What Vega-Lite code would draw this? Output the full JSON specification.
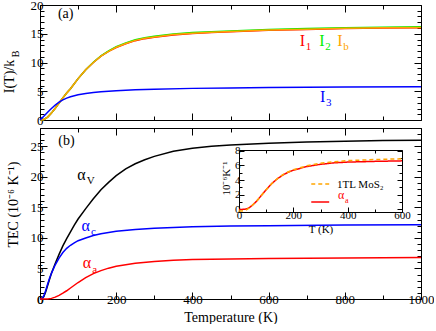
{
  "$schema": "https://vega.github.io/schema/vega-lite/v6.json",
  "padding": {"left": 2, "top": -1, "right": 0, "bottom": 0},
  "background": "white",
  "spacing": 8,
  "bounds": "flush",
  "resolve": {"scale": {"color": "independent", "strokeDash": "independent"}},
  "datasets": {
    "top": [
      {"s": "I1", "T": 0, "v": 0}, {"s": "I1", "T": 10, "v": 0.08}, {"s": "I1", "T": 20, "v": 0.5}, {"s": "I1", "T": 30, "v": 1.2}, {"s": "I1", "T": 40, "v": 2.05}, {"s": "I1", "T": 50, "v": 2.95}, {"s": "I1", "T": 60, "v": 3.85}, {"s": "I1", "T": 70, "v": 4.7}, {"s": "I1", "T": 80, "v": 5.45}, {"s": "I1", "T": 100, "v": 7.2}, {"s": "I1", "T": 120, "v": 8.75}, {"s": "I1", "T": 140, "v": 10.0}, {"s": "I1", "T": 160, "v": 11.1}, {"s": "I1", "T": 180, "v": 11.95}, {"s": "I1", "T": 200, "v": 12.6}, {"s": "I1", "T": 225, "v": 13.25}, {"s": "I1", "T": 250, "v": 13.8}, {"s": "I1", "T": 275, "v": 14.15}, {"s": "I1", "T": 300, "v": 14.4}, {"s": "I1", "T": 350, "v": 14.8}, {"s": "I1", "T": 400, "v": 15.05}, {"s": "I1", "T": 450, "v": 15.2}, {"s": "I1", "T": 500, "v": 15.35}, {"s": "I1", "T": 600, "v": 15.6}, {"s": "I1", "T": 700, "v": 15.75}, {"s": "I1", "T": 800, "v": 15.9}, {"s": "I1", "T": 900, "v": 16.0}, {"s": "I1", "T": 1000, "v": 16.05},
      {"s": "I2", "T": 0, "v": 0}, {"s": "I2", "T": 10, "v": 0.08}, {"s": "I2", "T": 20, "v": 0.5}, {"s": "I2", "T": 30, "v": 1.2}, {"s": "I2", "T": 40, "v": 2.05}, {"s": "I2", "T": 50, "v": 2.95}, {"s": "I2", "T": 60, "v": 3.85}, {"s": "I2", "T": 70, "v": 4.7}, {"s": "I2", "T": 80, "v": 5.45}, {"s": "I2", "T": 100, "v": 7.2}, {"s": "I2", "T": 120, "v": 8.75}, {"s": "I2", "T": 140, "v": 10.05}, {"s": "I2", "T": 160, "v": 11.15}, {"s": "I2", "T": 180, "v": 12.0}, {"s": "I2", "T": 200, "v": 12.75}, {"s": "I2", "T": 225, "v": 13.4}, {"s": "I2", "T": 250, "v": 13.95}, {"s": "I2", "T": 275, "v": 14.3}, {"s": "I2", "T": 300, "v": 14.55}, {"s": "I2", "T": 350, "v": 14.95}, {"s": "I2", "T": 400, "v": 15.2}, {"s": "I2", "T": 450, "v": 15.35}, {"s": "I2", "T": 500, "v": 15.5}, {"s": "I2", "T": 600, "v": 15.75}, {"s": "I2", "T": 700, "v": 15.9}, {"s": "I2", "T": 800, "v": 16.05}, {"s": "I2", "T": 900, "v": 16.15}, {"s": "I2", "T": 1000, "v": 16.2},
      {"s": "Ib", "T": 0, "v": 0}, {"s": "Ib", "T": 10, "v": 0.08}, {"s": "Ib", "T": 20, "v": 0.5}, {"s": "Ib", "T": 30, "v": 1.2}, {"s": "Ib", "T": 40, "v": 2.05}, {"s": "Ib", "T": 50, "v": 2.95}, {"s": "Ib", "T": 60, "v": 3.85}, {"s": "Ib", "T": 70, "v": 4.7}, {"s": "Ib", "T": 80, "v": 5.45}, {"s": "Ib", "T": 100, "v": 7.2}, {"s": "Ib", "T": 120, "v": 8.75}, {"s": "Ib", "T": 140, "v": 10.0}, {"s": "Ib", "T": 160, "v": 11.1}, {"s": "Ib", "T": 180, "v": 11.95}, {"s": "Ib", "T": 200, "v": 12.65}, {"s": "Ib", "T": 225, "v": 13.3}, {"s": "Ib", "T": 250, "v": 13.85}, {"s": "Ib", "T": 275, "v": 14.2}, {"s": "Ib", "T": 300, "v": 14.45}, {"s": "Ib", "T": 350, "v": 14.85}, {"s": "Ib", "T": 400, "v": 15.1}, {"s": "Ib", "T": 450, "v": 15.25}, {"s": "Ib", "T": 500, "v": 15.4}, {"s": "Ib", "T": 600, "v": 15.65}, {"s": "Ib", "T": 700, "v": 15.8}, {"s": "Ib", "T": 800, "v": 15.95}, {"s": "Ib", "T": 900, "v": 16.05}, {"s": "Ib", "T": 1000, "v": 16.1},
      {"s": "I3", "T": 0, "v": 0}, {"s": "I3", "T": 10, "v": 0.65}, {"s": "I3", "T": 20, "v": 1.35}, {"s": "I3", "T": 30, "v": 2.0}, {"s": "I3", "T": 40, "v": 2.6}, {"s": "I3", "T": 50, "v": 3.1}, {"s": "I3", "T": 60, "v": 3.5}, {"s": "I3", "T": 70, "v": 3.8}, {"s": "I3", "T": 80, "v": 4.05}, {"s": "I3", "T": 100, "v": 4.4}, {"s": "I3", "T": 120, "v": 4.62}, {"s": "I3", "T": 140, "v": 4.78}, {"s": "I3", "T": 160, "v": 4.9}, {"s": "I3", "T": 200, "v": 5.1}, {"s": "I3", "T": 250, "v": 5.25}, {"s": "I3", "T": 300, "v": 5.35}, {"s": "I3", "T": 400, "v": 5.5}, {"s": "I3", "T": 500, "v": 5.58}, {"s": "I3", "T": 600, "v": 5.64}, {"s": "I3", "T": 800, "v": 5.72}, {"s": "I3", "T": 1000, "v": 5.8}
    ],
    "toplabels": [
      {"s": "I1", "main": "I", "sub": "1", "T": 682, "v": 12.9},
      {"s": "I2", "main": "I", "sub": "2", "T": 733, "v": 12.9},
      {"s": "Ib", "main": "I", "sub": "b", "T": 780, "v": 12.9},
      {"s": "I3", "main": "I", "sub": "3", "T": 735, "v": 3.2}
    ],
    "bottom": [
      {"s": "aV", "T": 0, "v": 0}, {"s": "aV", "T": 5, "v": 0.05}, {"s": "aV", "T": 10, "v": 0.4}, {"s": "aV", "T": 15, "v": 1.2}, {"s": "aV", "T": 20, "v": 2.2}, {"s": "aV", "T": 30, "v": 4.2}, {"s": "aV", "T": 40, "v": 5.8}, {"s": "aV", "T": 50, "v": 7.3}, {"s": "aV", "T": 60, "v": 8.7}, {"s": "aV", "T": 70, "v": 9.9}, {"s": "aV", "T": 80, "v": 11.0}, {"s": "aV", "T": 90, "v": 12.1}, {"s": "aV", "T": 100, "v": 13.1}, {"s": "aV", "T": 120, "v": 14.8}, {"s": "aV", "T": 140, "v": 16.4}, {"s": "aV", "T": 160, "v": 17.9}, {"s": "aV", "T": 180, "v": 19.1}, {"s": "aV", "T": 200, "v": 20.2}, {"s": "aV", "T": 225, "v": 21.3}, {"s": "aV", "T": 250, "v": 22.15}, {"s": "aV", "T": 275, "v": 22.8}, {"s": "aV", "T": 300, "v": 23.35}, {"s": "aV", "T": 350, "v": 24.2}, {"s": "aV", "T": 400, "v": 24.7}, {"s": "aV", "T": 450, "v": 25.0}, {"s": "aV", "T": 500, "v": 25.2}, {"s": "aV", "T": 600, "v": 25.5}, {"s": "aV", "T": 700, "v": 25.7}, {"s": "aV", "T": 800, "v": 25.85}, {"s": "aV", "T": 900, "v": 25.95}, {"s": "aV", "T": 1000, "v": 26.0},
      {"s": "ac", "T": 0, "v": 0}, {"s": "ac", "T": 5, "v": 0.05}, {"s": "ac", "T": 10, "v": 0.5}, {"s": "ac", "T": 15, "v": 1.4}, {"s": "ac", "T": 20, "v": 2.4}, {"s": "ac", "T": 25, "v": 3.4}, {"s": "ac", "T": 30, "v": 4.2}, {"s": "ac", "T": 40, "v": 5.6}, {"s": "ac", "T": 50, "v": 6.7}, {"s": "ac", "T": 60, "v": 7.6}, {"s": "ac", "T": 70, "v": 8.3}, {"s": "ac", "T": 80, "v": 8.8}, {"s": "ac", "T": 90, "v": 9.2}, {"s": "ac", "T": 100, "v": 9.55}, {"s": "ac", "T": 120, "v": 10.0}, {"s": "ac", "T": 140, "v": 10.4}, {"s": "ac", "T": 160, "v": 10.7}, {"s": "ac", "T": 200, "v": 11.1}, {"s": "ac", "T": 250, "v": 11.4}, {"s": "ac", "T": 300, "v": 11.6}, {"s": "ac", "T": 400, "v": 11.85}, {"s": "ac", "T": 500, "v": 11.95}, {"s": "ac", "T": 600, "v": 12.0}, {"s": "ac", "T": 800, "v": 12.1}, {"s": "ac", "T": 1000, "v": 12.15},
      {"s": "aa", "T": 0, "v": 0}, {"s": "aa", "T": 10, "v": 0}, {"s": "aa", "T": 20, "v": 0.02}, {"s": "aa", "T": 30, "v": 0.1}, {"s": "aa", "T": 40, "v": 0.3}, {"s": "aa", "T": 50, "v": 0.6}, {"s": "aa", "T": 60, "v": 0.95}, {"s": "aa", "T": 70, "v": 1.35}, {"s": "aa", "T": 80, "v": 1.8}, {"s": "aa", "T": 90, "v": 2.25}, {"s": "aa", "T": 100, "v": 2.7}, {"s": "aa", "T": 120, "v": 3.5}, {"s": "aa", "T": 140, "v": 4.15}, {"s": "aa", "T": 160, "v": 4.65}, {"s": "aa", "T": 180, "v": 5.05}, {"s": "aa", "T": 200, "v": 5.35}, {"s": "aa", "T": 250, "v": 5.85}, {"s": "aa", "T": 300, "v": 6.15}, {"s": "aa", "T": 350, "v": 6.35}, {"s": "aa", "T": 400, "v": 6.45}, {"s": "aa", "T": 500, "v": 6.55}, {"s": "aa", "T": 600, "v": 6.62}, {"s": "aa", "T": 800, "v": 6.72}, {"s": "aa", "T": 1000, "v": 6.8}
    ],
    "botlabels": [
      {"s": "aV", "main": "α", "sub": "V", "T": 98, "v": 19.5},
      {"s": "ac", "main": "α", "sub": "c", "T": 109, "v": 11.2},
      {"s": "aa", "main": "α", "sub": "a", "T": 112, "v": 5.0}
    ],
    "inset": [
      {"s": "aa", "T": 0, "v": 0}, {"s": "aa", "T": 10, "v": 0}, {"s": "aa", "T": 20, "v": 0.02}, {"s": "aa", "T": 30, "v": 0.1}, {"s": "aa", "T": 40, "v": 0.3}, {"s": "aa", "T": 50, "v": 0.6}, {"s": "aa", "T": 60, "v": 0.95}, {"s": "aa", "T": 70, "v": 1.35}, {"s": "aa", "T": 80, "v": 1.8}, {"s": "aa", "T": 90, "v": 2.25}, {"s": "aa", "T": 100, "v": 2.7}, {"s": "aa", "T": 120, "v": 3.5}, {"s": "aa", "T": 140, "v": 4.15}, {"s": "aa", "T": 160, "v": 4.65}, {"s": "aa", "T": 180, "v": 5.05}, {"s": "aa", "T": 200, "v": 5.35}, {"s": "aa", "T": 250, "v": 5.85}, {"s": "aa", "T": 300, "v": 6.15}, {"s": "aa", "T": 350, "v": 6.35}, {"s": "aa", "T": 400, "v": 6.45}, {"s": "aa", "T": 500, "v": 6.55}, {"s": "aa", "T": 600, "v": 6.62},
      {"s": "MoS2", "T": 0, "v": -0.2}, {"s": "MoS2", "T": 10, "v": -0.2}, {"s": "MoS2", "T": 20, "v": -0.15}, {"s": "MoS2", "T": 30, "v": 0.0}, {"s": "MoS2", "T": 40, "v": 0.25}, {"s": "MoS2", "T": 50, "v": 0.6}, {"s": "MoS2", "T": 60, "v": 0.95}, {"s": "MoS2", "T": 70, "v": 1.35}, {"s": "MoS2", "T": 80, "v": 1.8}, {"s": "MoS2", "T": 90, "v": 2.25}, {"s": "MoS2", "T": 100, "v": 2.7}, {"s": "MoS2", "T": 120, "v": 3.5}, {"s": "MoS2", "T": 140, "v": 4.15}, {"s": "MoS2", "T": 160, "v": 4.7}, {"s": "MoS2", "T": 180, "v": 5.1}, {"s": "MoS2", "T": 200, "v": 5.4}, {"s": "MoS2", "T": 250, "v": 5.95}, {"s": "MoS2", "T": 300, "v": 6.3}, {"s": "MoS2", "T": 350, "v": 6.5}, {"s": "MoS2", "T": 400, "v": 6.65}, {"s": "MoS2", "T": 500, "v": 6.8}, {"s": "MoS2", "T": 600, "v": 6.9}
    ],
    "legendlines": [
      {"s": "MoS2", "T1": 266, "T2": 332, "v": 3.45},
      {"s": "aa", "T1": 266, "T2": 332, "v": 1.0}
    ]
  },
  "vconcat": [
    {
      "width": 381,
      "height": 115,
      "resolve": {"axis": {"x": "independent", "y": "independent"}},
      "layer": [
        {
          "data": {"name": "top"},
          "mark": {"type": "line", "strokeWidth": 1.5},
          "encoding": {
            "x": {"field": "T", "type": "quantitative", "scale": {"domain": [0, 1000], "nice": false, "zero": false},
              "axis": {"orient": "bottom", "values": [0, 100, 200, 300, 400, 500, 600, 700, 800, 900, 1000], "labels": false, "title": null,
                "tickSize": {"condition": {"test": "datum.value % 200 === 0", "value": -7}, "value": -4}}},
            "y": {"field": "v", "type": "quantitative", "scale": {"domain": [0, 20], "nice": false, "zero": false},
              "axis": {"orient": "left", "values": [0,1,2,3,4,5,6,7,8,9,10,11,12,13,14,15,16,17,18,19,20], "format": "d",
                "labelExpr": "datum.value % 5 === 0 ? datum.label : ''", "labelPadding": 4,
                "tickSize": {"condition": {"test": "datum.value % 5 === 0", "value": -7}, "value": -4},
                "title": "I(T)/k", "titleX": -27, "titleY": 71, "titleAngle": -90, "titleBaseline": "alphabetic", "titleAlign": "center"}},
            "color": {"field": "s", "type": "nominal", "scale": {"domain": ["I1", "I2", "Ib", "I3"], "range": ["#ff0000", "#00ee00", "#ffa500", "#0000ff"]}, "legend": null}
          }
        },
        {
          "data": {"name": "toplabels"},
          "mark": {"type": "text", "align": "left", "baseline": "alphabetic", "fontSize": 16, "font": "Liberation Serif"},
          "encoding": {
            "x": {"field": "T", "type": "quantitative", "scale": {"domain": [0, 1000], "nice": false, "zero": false},
              "axis": {"orient": "top", "values": [0, 100, 200, 300, 400, 500, 600, 700, 800, 900, 1000], "labels": false, "title": null,
                "tickSize": {"condition": {"test": "datum.value % 200 === 0", "value": -7}, "value": -4}}},
            "y": {"field": "v", "type": "quantitative", "scale": {"domain": [0, 20], "nice": false, "zero": false},
              "axis": {"orient": "right", "values": [0,1,2,3,4,5,6,7,8,9,10,11,12,13,14,15,16,17,18,19,20], "labels": false, "title": null,
                "tickSize": {"condition": {"test": "datum.value % 5 === 0", "value": -7}, "value": -4}}},
            "text": {"field": "main"},
            "color": {"field": "s", "type": "nominal", "scale": {"domain": ["I1", "I2", "Ib", "I3"], "range": ["#ff0000", "#00ee00", "#ffa500", "#0000ff"]}, "legend": null}
          }
        },
        {
          "data": {"name": "toplabels"},
          "mark": {"type": "text", "align": "left", "baseline": "alphabetic", "fontSize": 11, "font": "Liberation Serif", "dx": 6, "dy": 4.5},
          "encoding": {
            "x": {"field": "T", "type": "quantitative", "scale": {"domain": [0, 1000], "nice": false, "zero": false}, "axis": null},
            "y": {"field": "v", "type": "quantitative", "scale": {"domain": [0, 20], "nice": false, "zero": false},
              "axis": {"orient": "left", "domain": false, "ticks": false, "labels": false, "title": "B", "titleFontSize": 10,
                "titleX": -22, "titleY": 48.5, "titleAngle": -90, "titleBaseline": "alphabetic", "titleAlign": "center"}},
            "text": {"field": "sub"},
            "color": {"field": "s", "type": "nominal", "scale": {"domain": ["I1", "I2", "Ib", "I3"], "range": ["#ff0000", "#00ee00", "#ffa500", "#0000ff"]}, "legend": null}
          }
        },
        {
          "data": {"values": [{"T": 47, "v": 17.7, "label": "(a)"}]},
          "mark": {"type": "text", "align": "left", "baseline": "alphabetic", "fontSize": 14, "font": "Liberation Serif", "color": "black"},
          "encoding": {
            "x": {"field": "T", "type": "quantitative", "scale": {"domain": [0, 1000], "nice": false, "zero": false}, "axis": null},
            "y": {"field": "v", "type": "quantitative", "scale": {"domain": [0, 20], "nice": false, "zero": false}, "axis": null},
            "text": {"field": "label"}
          }
        }
      ]
    },
    {
      "width": 381,
      "height": 171,
      "resolve": {"scale": {"x": "independent", "y": "independent"}, "axis": {"x": "independent", "y": "independent"}},
      "layer": [
        {
          "data": {"name": "bottom"},
          "mark": {"type": "line", "strokeWidth": 1.5},
          "encoding": {
            "x": {"field": "T", "type": "quantitative", "scale": {"domain": [0, 1000], "nice": false, "zero": false},
              "axis": {"orient": "bottom", "values": [0, 100, 200, 300, 400, 500, 600, 700, 800, 900, 1000], "format": "d",
                "labelExpr": "datum.value % 200 === 0 ? datum.label : ''", "labelPadding": 1,
                "tickSize": {"condition": {"test": "datum.value % 200 === 0", "value": -7}, "value": -4},
                "title": "Temperature (K)", "titlePadding": 1}},
            "y": {"field": "v", "type": "quantitative", "scale": {"domain": [0, 28], "nice": false, "zero": false},
              "axis": {"orient": "left", "values": [0,1,2,3,4,5,6,7,8,9,10,11,12,13,14,15,16,17,18,19,20,21,22,23,24,25,26,27,28], "format": "d",
                "labelExpr": "datum.value % 5 === 0 ? datum.label : ''", "labelPadding": 4,
                "tickSize": {"condition": {"test": "datum.value % 5 === 0", "value": -7}, "value": -4},
                "title": "TEC (10⁻⁶ K⁻¹)", "titleX": -23, "titleY": 76, "titleAngle": -90, "titleBaseline": "alphabetic", "titleAlign": "center"}},
            "color": {"field": "s", "type": "nominal", "scale": {"domain": ["aV", "ac", "aa", "MoS2"], "range": ["#000000", "#0000ff", "#ff0000", "#ffa500"]}, "legend": null}
          }
        },
        {
          "data": {"name": "botlabels"},
          "mark": {"type": "text", "align": "left", "baseline": "alphabetic", "fontSize": 16, "font": "Liberation Serif"},
          "encoding": {
            "x": {"field": "T", "type": "quantitative", "scale": {"domain": [0, 1000], "nice": false, "zero": false},
              "axis": {"orient": "top", "values": [0, 100, 200, 300, 400, 500, 600, 700, 800, 900, 1000], "labels": false, "title": null,
                "tickSize": {"condition": {"test": "datum.value % 200 === 0", "value": -7}, "value": -4}}},
            "y": {"field": "v", "type": "quantitative", "scale": {"domain": [0, 28], "nice": false, "zero": false},
              "axis": {"orient": "right", "values": [0,1,2,3,4,5,6,7,8,9,10,11,12,13,14,15,16,17,18,19,20,21,22,23,24,25,26,27,28], "labels": false, "title": null,
                "tickSize": {"condition": {"test": "datum.value % 5 === 0", "value": -7}, "value": -4}}},
            "text": {"field": "main"},
            "color": {"field": "s", "type": "nominal", "scale": {"domain": ["aV", "ac", "aa", "MoS2"], "range": ["#000000", "#0000ff", "#ff0000", "#ffa500"]}, "legend": null}
          }
        },
        {
          "data": {"name": "botlabels"},
          "mark": {"type": "text", "align": "left", "baseline": "alphabetic", "fontSize": 11, "font": "Liberation Serif", "dx": 9.5, "dy": 4.5},
          "encoding": {
            "x": {"field": "T", "type": "quantitative", "scale": {"domain": [0, 1000], "nice": false, "zero": false}, "axis": null},
            "y": {"field": "v", "type": "quantitative", "scale": {"domain": [0, 28], "nice": false, "zero": false}, "axis": null},
            "text": {"field": "sub"},
            "color": {"field": "s", "type": "nominal", "scale": {"domain": ["aV", "ac", "aa", "MoS2"], "range": ["#000000", "#0000ff", "#ff0000", "#ffa500"]}, "legend": null}
          }
        },
        {
          "data": {"values": [{"T": 48, "v": 25.2, "label": "(b)"}]},
          "mark": {"type": "text", "align": "left", "baseline": "alphabetic", "fontSize": 14, "font": "Liberation Serif", "color": "black"},
          "encoding": {
            "x": {"field": "T", "type": "quantitative", "scale": {"domain": [0, 1000], "nice": false, "zero": false}, "axis": null},
            "y": {"field": "v", "type": "quantitative", "scale": {"domain": [0, 28], "nice": false, "zero": false}, "axis": null},
            "text": {"field": "label"}
          }
        },
        {
          "data": {"name": "inset"},
          "mark": {"type": "line", "strokeWidth": 1.5},
          "encoding": {
            "x": {"field": "T", "type": "quantitative", "scale": {"domain": [0, 600], "range": [199, 362], "nice": false, "zero": false},
              "axis": {"orient": "bottom", "offset": -87, "values": [0, 100, 200, 300, 400, 500, 600], "format": "d",
                "labelExpr": "datum.value % 200 === 0 ? datum.label : ''", "labelPadding": 2, "labelFontSize": 11,
                "tickSize": {"condition": {"test": "datum.value % 200 === 0", "value": -5}, "value": -3},
                "title": "T (K)", "titleFontSize": 11, "titlePadding": 1}},
            "y": {"field": "v", "type": "quantitative", "scale": {"domain": [-0.35, 8.1], "range": [84, 22], "nice": false, "zero": false},
              "axis": {"orient": "left", "offset": -199, "values": [0, 1, 2, 3, 4, 5, 6, 7, 8], "format": "d",
                "labelExpr": "datum.value % 2 === 0 ? datum.label : ''", "labelPadding": 4, "labelFontSize": 11,
                "tickSize": {"condition": {"test": "datum.value % 2 === 0", "value": -5}, "value": -3},
                "title": "10⁻⁶K⁻¹", "titleFontSize": 11, "titleX": -10, "titleY": 50, "titleAngle": -90, "titleBaseline": "alphabetic", "titleAlign": "center"}},
            "color": {"field": "s", "type": "nominal", "scale": {"domain": ["aV", "ac", "aa", "MoS2"], "range": ["#000000", "#0000ff", "#ff0000", "#ffa500"]}, "legend": null},
            "strokeDash": {"field": "s", "type": "nominal", "scale": {"domain": ["aa", "MoS2"], "range": [[1, 0], [4, 3]]}, "legend": null}
          }
        },
        {
          "data": {"name": "legendlines"},
          "mark": {"type": "rule", "strokeWidth": 1.5},
          "encoding": {
            "x": {"field": "T1", "type": "quantitative", "scale": {"domain": [0, 600], "range": [199, 362], "nice": false, "zero": false},
              "axis": {"orient": "top", "offset": -22, "values": [0, 100, 200, 300, 400, 500, 600], "labels": false, "title": null,
                "tickSize": {"condition": {"test": "datum.value % 200 === 0", "value": -5}, "value": -3}}},
            "x2": {"field": "T2"},
            "y": {"field": "v", "type": "quantitative", "scale": {"domain": [-0.35, 8.1], "range": [84, 22], "nice": false, "zero": false},
              "axis": {"orient": "right", "offset": -19, "values": [0, 1, 2, 3, 4, 5, 6, 7, 8], "labels": false, "title": null,
                "tickSize": {"condition": {"test": "datum.value % 2 === 0", "value": -5}, "value": -3}}},
            "color": {"field": "s", "type": "nominal", "scale": {"domain": ["aV", "ac", "aa", "MoS2"], "range": ["#000000", "#0000ff", "#ff0000", "#ffa500"]}, "legend": null},
            "strokeDash": {"field": "s", "type": "nominal", "scale": {"domain": ["aa", "MoS2"], "range": [[1, 0], [4, 3]]}, "legend": null}
          }
        },
        {
          "data": {"values": [{"T": 361, "v": 2.9, "label": "1TL MoS₂"}]},
          "mark": {"type": "text", "align": "left", "baseline": "alphabetic", "fontSize": 11, "font": "Liberation Serif", "color": "black"},
          "encoding": {
            "x": {"field": "T", "type": "quantitative", "scale": {"domain": [0, 600], "range": [199, 362], "nice": false, "zero": false}, "axis": null},
            "y": {"field": "v", "type": "quantitative", "scale": {"domain": [-0.35, 8.1], "range": [84, 22], "nice": false, "zero": false}, "axis": null},
            "text": {"field": "label"}
          }
        },
        {
          "data": {"values": [{"T": 364, "v": 1.4, "label": "α"}]},
          "mark": {"type": "text", "align": "left", "baseline": "alphabetic", "fontSize": 12, "font": "Liberation Serif", "color": "#ff0000"},
          "encoding": {
            "x": {"field": "T", "type": "quantitative", "scale": {"domain": [0, 600], "range": [199, 362], "nice": false, "zero": false}, "axis": null},
            "y": {"field": "v", "type": "quantitative", "scale": {"domain": [-0.35, 8.1], "range": [84, 22], "nice": false, "zero": false}, "axis": null},
            "text": {"field": "label"}
          }
        },
        {
          "data": {"values": [{"T": 364, "v": 1.4, "label": "a"}]},
          "mark": {"type": "text", "align": "left", "baseline": "alphabetic", "fontSize": 8, "font": "Liberation Serif", "color": "#ff0000", "dx": 7, "dy": 3.5},
          "encoding": {
            "x": {"field": "T", "type": "quantitative", "scale": {"domain": [0, 600], "range": [199, 362], "nice": false, "zero": false}, "axis": null},
            "y": {"field": "v", "type": "quantitative", "scale": {"domain": [-0.35, 8.1], "range": [84, 22], "nice": false, "zero": false}, "axis": null},
            "text": {"field": "label"}
          }
        }
      ]
    }
  ],
  "config": {
    "font": "Liberation Serif",
    "view": {"stroke": null},
    "axis": {
      "grid": false, "domainColor": "black", "domainWidth": 1, "tickColor": "black", "tickWidth": 1,
      "labelColor": "black", "labelFont": "Liberation Serif", "labelFontSize": 13,
      "titleColor": "black", "titleFont": "Liberation Serif", "titleFontSize": 14, "titleFontWeight": "normal",
      "labelFlush": false, "labelOverlap": false, "labelBound": false
    }
  }
}
